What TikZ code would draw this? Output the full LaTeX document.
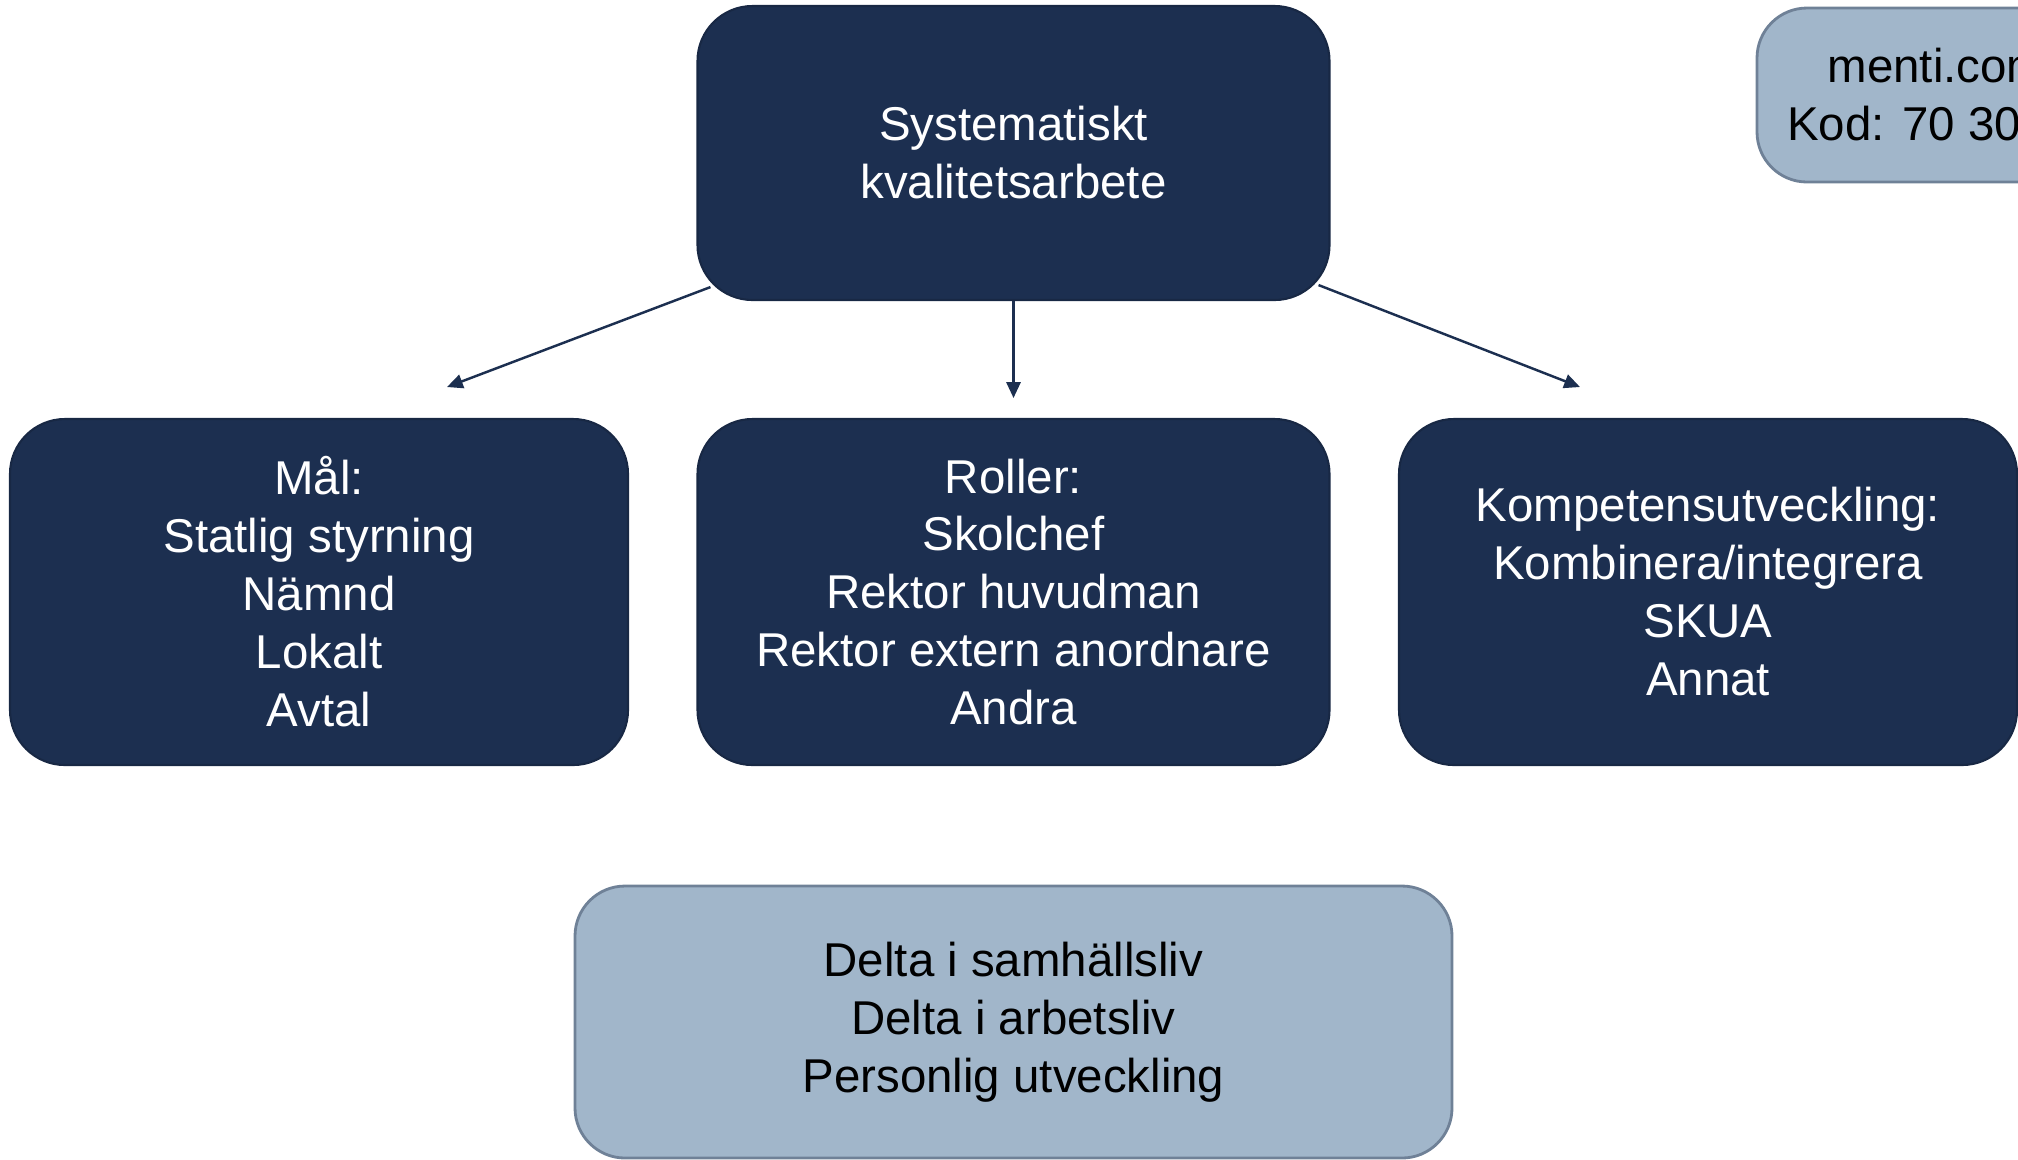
\documentclass[tikz,border=0pt]{standalone}
\usepackage{fontspec}
\setmainfont{Liberation Sans}
\usetikzlibrary{arrows.meta}
\definecolor{navy}{HTML}{1C2F50}
\definecolor{slate}{HTML}{A1B6CA}
\definecolor{slateedge}{HTML}{6F8197}
\begin{document}
\begin{tikzpicture}[
    darkbox/.style={draw=navy!85!black, fill=navy, text=white, rounded corners=0.55cm, align=center, inner sep=0pt, line width=0.6pt},
    lightbox/.style={draw=slateedge, fill=slate, text=black, rounded corners=0.5cm, align=center, inner sep=0pt, line width=0.8pt},
    link/.style={navy, line width=0.7pt, -{Triangle[length=4.5pt, width=4pt]}},
    font=\fontsize{13.5}{16.5}\selectfont]
        \useasboundingbox (0, 0) rectangle (20.18, -11.59);
        \node [darkbox, minimum width=6.32cm, minimum height=2.94cm] (ska) at (10.135, -1.53) {Systematiskt\\kvalitetsarbete};
        \node [darkbox, minimum width=6.18cm, minimum height=3.46cm] (mal) at (3.19, -5.92) {Mål:\\Statlig styrning\\Nämnd\\Lokalt\\Avtal};
        \node [darkbox, minimum width=6.32cm, minimum height=3.46cm] (roller) at (10.135, -5.92) {Roller:\\Skolchef\\Rektor huvudman\\Rektor extern anordnare\\Andra};
        \node [darkbox, minimum width=6.18cm, minimum height=3.46cm] (komp) at (17.08, -5.92) {Kompetensutveckling:\\Kombinera/integrera\\SKUA\\Annat};
        \node [lightbox, minimum width=8.77cm, minimum height=2.72cm] (delta) at (10.135, -10.22) {Delta i samhällsliv\\Delta i arbetsliv\\Personlig utveckling};
        \node [lightbox, minimum width=3.6cm, minimum height=1.74cm] (menti) at (19.37, -0.95) {menti.com\\Kod: 70 30 \phantom{00}};
        % arrow tips stop short of the boxes below
        \coordinate (maltip) at (4.47, -3.87);
        \coordinate (rollertip) at (10.135, -3.98);
        \coordinate (komptip) at (15.80, -3.87);
        \draw [link] ([shift={(0.14, 0.14)}]ska.south west) -- (maltip);
        \draw [link] (ska.south) -- (rollertip);
        \draw [link] ([shift={(-0.12, 0.16)}]ska.south east) -- (komptip);
\end{tikzpicture}
\end{document}
